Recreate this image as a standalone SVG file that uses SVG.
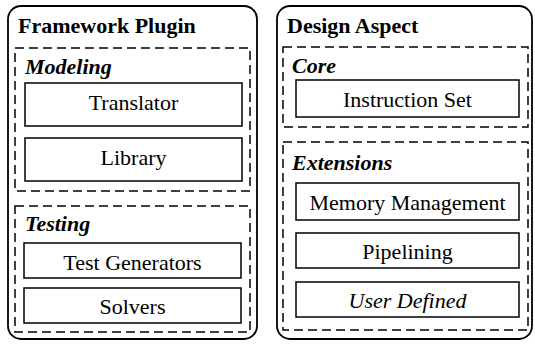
<svg xmlns="http://www.w3.org/2000/svg" width="535" height="344" viewBox="0 0 535 344">
<style>
.outer{fill:none;stroke:#000;stroke-width:1.8}
.group{fill:none;stroke:#000;stroke-width:1.5;stroke-dasharray:9 5}
.box{fill:none;stroke:#000;stroke-width:1.5}
text{font-family:"Times New Roman","Liberation Serif",Tinos,serif;font-size:22px;fill:#000}
.title{font-weight:bold}
.gtitle{font-weight:bold;font-style:italic}
.lbl{text-anchor:middle}
.it{font-style:italic}
</style>
<rect width="535" height="344" fill="#fff"/>
<g id="framework-plugin">
<rect class="outer" x="8" y="6" width="249" height="333" rx="13"/>
<text class="title" x="18" y="33">Framework Plugin</text>
</g>
<g id="modeling">
<rect class="group" x="15" y="48" width="235" height="143"/>
<text class="gtitle" x="25" y="74">Modeling</text>
</g>
<g id="translator">
<rect class="box" x="25" y="83" width="217" height="43"/>
<text class="lbl" x="133.5" y="109.5">Translator</text>
</g>
<g id="library">
<rect class="box" x="25" y="138" width="217" height="43"/>
<text class="lbl" x="133.5" y="165">Library</text>
</g>
<g id="testing">
<rect class="group" x="15" y="206" width="235" height="126"/>
<text class="gtitle" x="25" y="231">Testing</text>
</g>
<g id="test-generators">
<rect class="box" x="24" y="243" width="217" height="35"/>
<text class="lbl" x="132.5" y="270">Test Generators</text>
</g>
<g id="solvers">
<rect class="box" x="24" y="288" width="217" height="35"/>
<text class="lbl" x="132.5" y="314">Solvers</text>
</g>
<g id="design-aspect">
<rect class="outer" x="277" y="6" width="255" height="333" rx="13"/>
<text class="title" x="287" y="32.5">Design Aspect</text>
</g>
<g id="core">
<rect class="group" x="283" y="47" width="245" height="80"/>
<text class="gtitle" x="292" y="72.5">Core</text>
</g>
<g id="instruction-set">
<rect class="box" x="296" y="80" width="223" height="37"/>
<text class="lbl" x="407.5" y="107">Instruction Set</text>
</g>
<g id="extensions">
<rect class="group" x="283" y="142" width="245" height="188"/>
<text class="gtitle" x="292" y="169.5">Extensions</text>
</g>
<g id="memory-management">
<rect class="box" x="296" y="183" width="223" height="37"/>
<text class="lbl" x="407.5" y="210">Memory Management</text>
</g>
<g id="pipelining">
<rect class="box" x="296" y="233" width="223" height="35"/>
<text class="lbl" x="407.5" y="258.5">Pipelining</text>
</g>
<g id="user-defined">
<rect class="box" x="296" y="282" width="223" height="35"/>
<text class="lbl it" x="407.5" y="308">User Defined</text>
</g>
<g id="connectors"></g>
</svg>
